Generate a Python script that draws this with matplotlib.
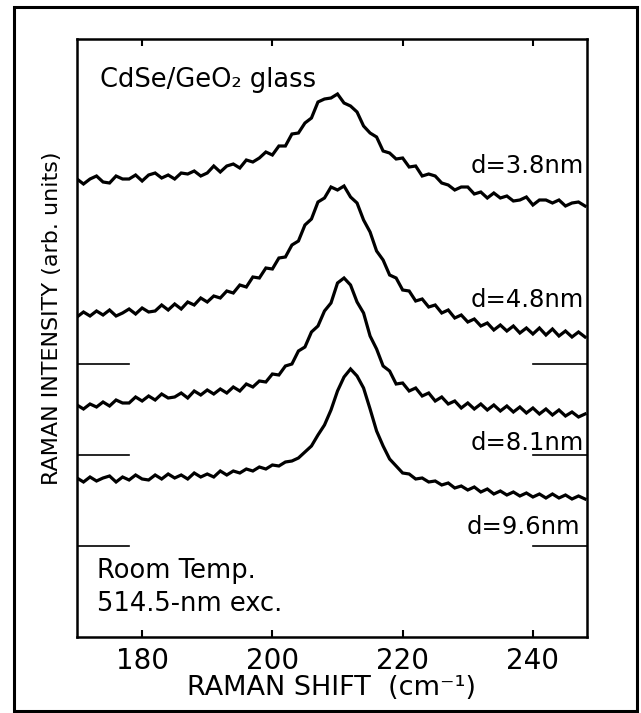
import matplotlib
matplotlib.use("Agg")
import matplotlib.pyplot as plt
from matplotlib.patches import Rectangle

# raman shift axis, one point per cm-1
shift = list(range(170, 249))

# spectra (stacked, arbitrary units)
d38 = [45.8, 45.3, 45.8, 46.1, 45.5, 45.4, 46.1, 45.8, 45.8, 46.2,
       45.6, 46.2, 46.4, 45.9, 46.2, 45.8, 46.4, 46.3, 46.6, 46.1,
       46.4, 47.1, 46.5, 47.1, 47.3, 46.9, 47.7, 47.5, 47.9, 48.5,
       48.2, 49.1, 49.1, 50.3, 50.4, 51.4, 51.9, 53.5, 53.8, 53.9,
       54.3, 53.4, 53.1, 52.5, 51.1, 50.4, 50.0, 48.6, 48.4, 47.8,
       47.9, 47.0, 47.1, 46.1, 46.3, 46.1, 45.4, 45.2, 44.7, 45.0,
       45.0, 44.3, 44.5, 43.9, 44.4, 43.9, 44.1, 43.6, 43.7, 44.0,
       43.2, 43.7, 43.7, 43.4, 43.7, 43.1, 43.4, 43.5, 43.1]
d48 = [32.0, 32.5, 32.1, 32.6, 32.2, 32.7, 32.1, 32.4, 32.8, 32.3,
       32.9, 32.5, 32.6, 33.2, 32.7, 33.3, 32.8, 33.5, 33.2, 33.9,
       33.5, 34.1, 33.9, 34.6, 34.4, 35.2, 35.0, 36.0, 35.9, 36.9,
       36.8, 37.9, 38.0, 39.2, 39.6, 41.2, 41.8, 43.5, 43.9, 45.0,
       44.7, 45.1, 44.0, 43.4, 41.7, 40.5, 38.6, 37.7, 36.2, 35.9,
       34.7, 34.6, 33.6, 33.8, 33.0, 33.2, 32.4, 32.7, 31.9, 32.2,
       31.5, 31.8, 31.1, 31.4, 30.7, 31.2, 30.6, 31.1, 30.4, 30.9,
       30.3, 30.9, 30.2, 30.8, 30.1, 30.6, 30.0, 30.5, 30.0]
d81 = [23.2, 22.8, 23.3, 23.0, 23.5, 23.1, 23.7, 23.4, 23.4, 24.0,
       23.6, 24.1, 23.7, 24.3, 23.9, 24.0, 24.4, 23.9, 24.6, 24.2,
       24.7, 24.3, 24.8, 24.4, 25.0, 24.6, 25.3, 25.0, 25.6, 25.5,
       26.3, 26.2, 27.1, 27.3, 28.6, 29.0, 30.5, 31.1, 32.6, 33.4,
       35.4, 35.9, 35.2, 33.5, 32.4, 30.1, 28.8, 27.1, 26.6, 25.3,
       25.4, 24.6, 24.9, 24.1, 24.4, 23.6, 24.0, 23.3, 23.6, 22.9,
       23.4, 22.8, 23.3, 22.7, 23.2, 22.6, 23.1, 22.5, 23.0, 22.4,
       22.9, 22.3, 22.8, 22.2, 22.7, 22.1, 22.5, 22.0, 22.3]
d96 = [15.9, 15.5, 16.0, 15.6, 15.9, 16.1, 15.5, 16.0, 15.7, 16.2,
       15.8, 15.7, 16.2, 15.8, 16.3, 15.9, 16.2, 15.8, 16.4, 16.0,
       16.3, 16.0, 16.6, 16.2, 16.6, 16.4, 16.8, 16.6, 17.0, 16.8,
       17.2, 17.1, 17.5, 17.6, 17.9, 18.5, 19.1, 20.2, 21.2, 22.7,
       24.6, 26.0, 26.8, 26.1, 24.9, 22.8, 20.6, 19.1, 17.8, 17.1,
       16.4, 16.3, 15.8, 15.9, 15.5, 15.6, 15.2, 15.4, 14.9, 15.1,
       14.7, 15.0, 14.5, 14.8, 14.3, 14.6, 14.2, 14.5, 14.1, 14.4,
       14.0, 14.3, 13.9, 14.3, 13.9, 14.2, 13.8, 14.1, 13.8]

spectra = [d38, d48, d81, d96]
labels = ["d=3.8nm", "d=4.8nm", "d=8.1nm", "d=9.6nm"]
label_y = [47.1, 33.7, 19.4, 11.0]
label_x = [247.8, 247.8, 247.8, 247.2]

# zero markers on both sides
zero_levels = [27.3, 18.2, 9.1]

fig = plt.figure(figsize=(6.41, 7.13), dpi=100)
ax = fig.add_axes([0.1201, 0.1066, 0.7956, 0.8387])

for s in spectra:
    ax.plot(shift, s, color="black", lw=2.3, solid_joinstyle="miter")

for z in zero_levels:
    ax.plot([170, 178], [z, z], color="black", lw=1.2)
    ax.plot([240, 248.3], [z, z], color="black", lw=1.2)

for lab, lx, ly in zip(labels, label_x, label_y):
    ax.text(lx, ly, lab, ha="right", va="center", fontsize=17.5)

ax.text(173.5, 55.7, "CdSe/GeO₂ glass", ha="left", va="center", fontsize=18.5)
ax.text(173.1, 6.6, "Room Temp.", ha="left", va="center", fontsize=18.5)
ax.text(173.1, 3.3, "514.5-nm exc.", ha="left", va="center", fontsize=18.5)

ax.set_xlim(170, 248.3)
ax.set_ylim(0, 59.8)
ax.set_xticks([180, 200, 220, 240])
ax.set_yticks([])
ax.tick_params(axis="x", direction="in", length=5, width=1.5, top=True,
               labelsize=20, pad=7)
for sp in ax.spines.values():
    sp.set_linewidth(1.8)

ax.set_xlabel("RAMAN SHIFT  (cm⁻¹)", fontsize=19.5, labelpad=0)
fig.text(52 / 641, 1 - 318 / 713, "RAMAN INTENSITY (arb. units)",
         rotation=90, ha="center", va="center", fontsize=16)

# outer frame round the whole figure
fig.patches.append(Rectangle((14 / 641, 2 / 713), 623 / 641, 704 / 713,
                             transform=fig.transFigure, fill=False,
                             edgecolor="black", lw=2.2))

fig.savefig("out.png", dpi=100)
